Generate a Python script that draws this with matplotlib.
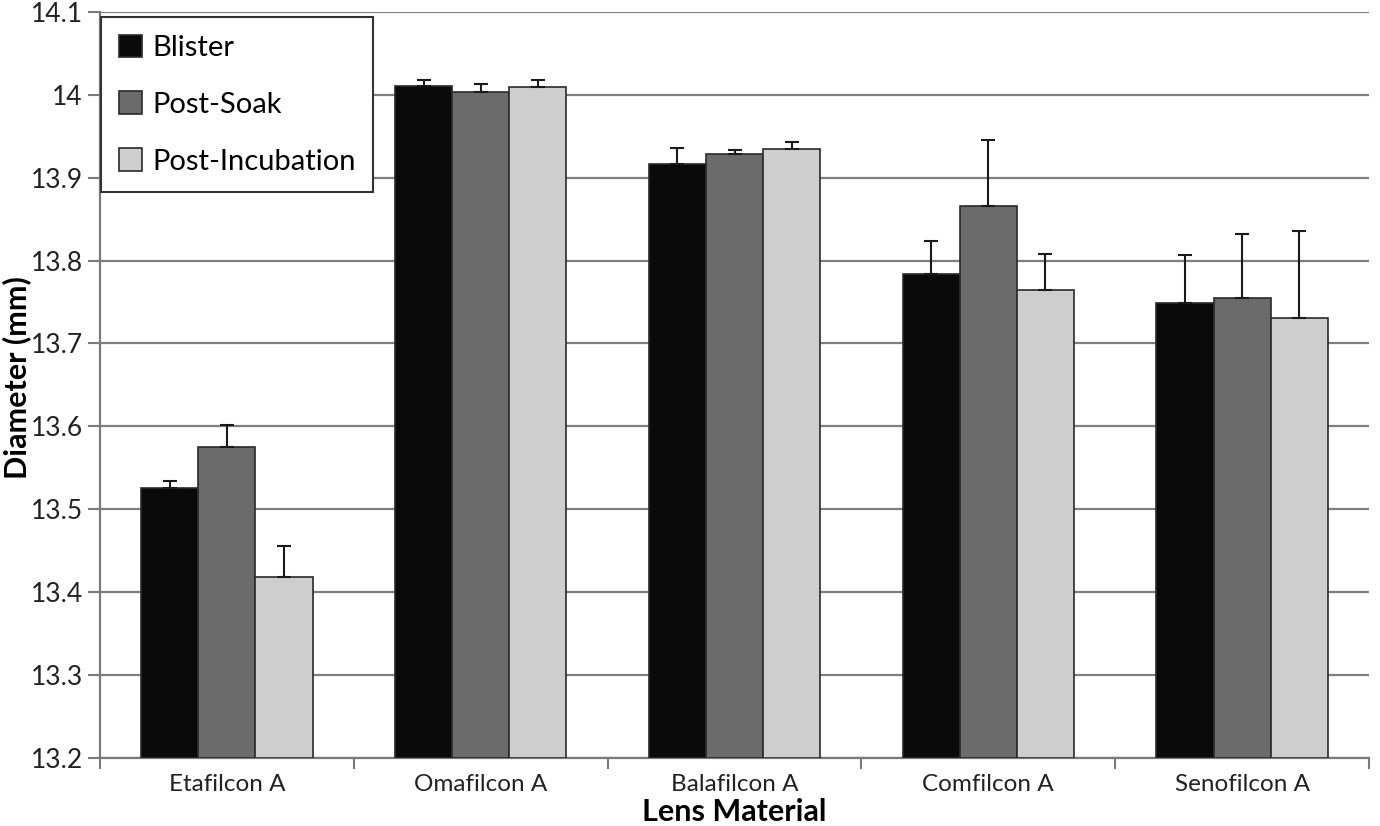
import numpy as np
import matplotlib.pyplot as plt

materials = ['Etafilcon A', 'Omafilcon A', 'Balafilcon A', 'Comfilcon A', 'Senofilcon A']
series = ['Blister', 'Post-Soak', 'Post-Incubation']
colors = ['#0a0a0a', '#6b6b6b', '#cecece']

# mean diameters (mm) and top of the error bars
blister = [13.526, 14.011, 13.916, 13.784, 13.749]
post_soak = [13.575, 14.004, 13.928, 13.866, 13.755]
post_incubation = [13.418, 14.010, 13.935, 13.765, 13.731]

blister_top = [13.534, 14.018, 13.936, 13.824, 13.807]
post_soak_top = [13.602, 14.013, 13.933, 13.945, 13.832]
post_incubation_top = [13.455, 14.018, 13.943, 13.808, 13.836]

means = [blister, post_soak, post_incubation]
tops = [blister_top, post_soak_top, post_incubation_top]

plt.rcParams['font.family'] = ['Lato', 'DejaVu Sans']

fig = plt.figure(figsize=(13.8, 8.26), dpi=100)
ax = fig.add_axes([0.0725, 0.0827, 0.9195, 0.9028])

x = np.arange(len(materials))
width = 0.225
for i, (name, vals, top) in enumerate(zip(series, means, tops)):
    vals = np.array(vals)
    err = np.array(top) - vals
    ax.bar(x + (i - 1) * width, vals - 13.2, width, bottom=13.2, color=colors[i],
           edgecolor='#2a2a2a', linewidth=1.2, label=name, zorder=3,
           yerr=[np.zeros_like(err), err], capsize=5,
           error_kw=dict(ecolor='#1a1a1a', elinewidth=1.5, capthick=1.5, zorder=4))

ax.set_ylim(13.2, 14.1)
ax.set_xlim(-0.5, len(materials) - 0.5)
ax.set_yticks(np.arange(13.2, 14.11, 0.1))
ax.set_yticklabels(['13.2', '13.3', '13.4', '13.5', '13.6', '13.7', '13.8', '13.9', '14', '14.1'])
ax.set_xticks(x)
ax.set_xticklabels(materials)
ax.set_xticks(np.arange(-0.5, len(materials)), minor=True)
ax.tick_params(axis='x', which='major', length=0, labelsize=17.5, pad=12, labelcolor='#222222')
ax.tick_params(axis='x', which='minor', length=8, width=1.5, color='#7a7a7a')
ax.tick_params(axis='y', length=9, width=1.5, color='#7a7a7a', labelsize=19, labelcolor='#222222')

ax.yaxis.grid(True, color='#7f7f7f', linewidth=1.6, zorder=0)
ax.set_axisbelow(True)
for s in ['top', 'right']:
    ax.spines[s].set_visible(False)
for s in ['left', 'bottom']:
    ax.spines[s].set_color('#7a7a7a')
    ax.spines[s].set_linewidth(1.6)

ax.set_ylabel('Diameter (mm)', fontsize=22, fontweight='bold')
ax.yaxis.set_label_coords(-0.054, 0.51)
ax.set_xlabel('Lens Material', fontsize=22, fontweight='bold', labelpad=2)

leg = ax.legend(loc='upper left', bbox_to_anchor=(101 / 1380, 1 - 17 / 826),
                bbox_transform=fig.transFigure, borderaxespad=0, fancybox=False,
                fontsize=21, labelspacing=1.05, handlelength=0.8, handleheight=0.8,
                handletextpad=0.35, borderpad=0.6, framealpha=1)
leg.get_frame().set_edgecolor('#333333')
leg.get_frame().set_linewidth(1.5)
leg.set_zorder(10)

fig.savefig('out.png', dpi=100)
